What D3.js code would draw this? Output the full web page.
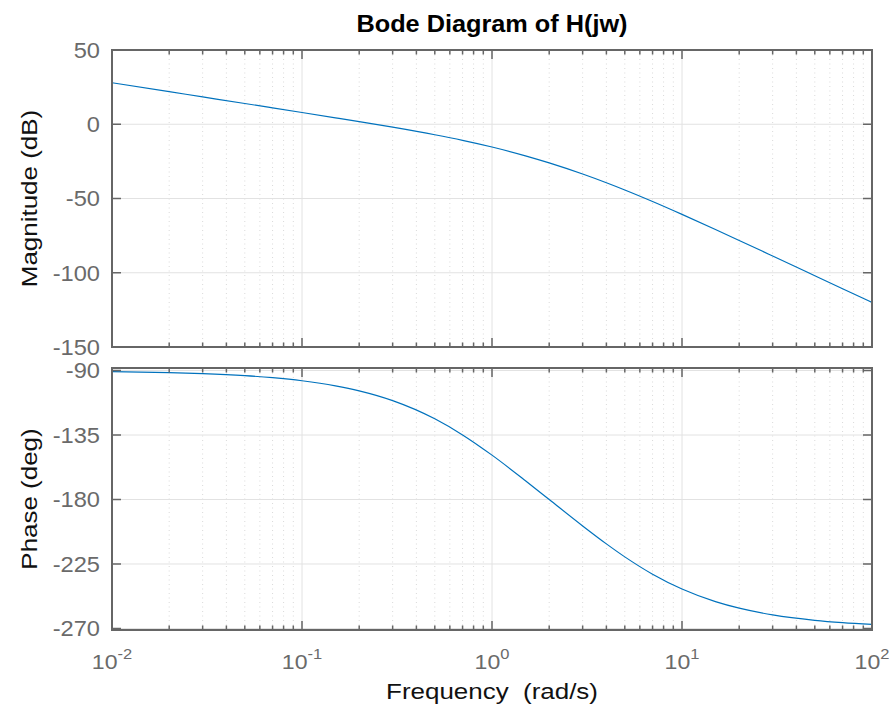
<!DOCTYPE html>
<html><head><meta charset="utf-8">
<script src="https://cdn.jsdelivr.net/npm/d3@7"></script>
<style>html,body{margin:0;padding:0;background:#fff;}svg{display:block;font-family:"Liberation Sans",Arial,Helvetica,sans-serif;}text{white-space:pre;}</style>
</head><body>
<script>
// ---- data ----
const freq = [0.01,0.02,0.03,0.05,0.07,0.1,0.15,0.2,0.3,0.5,0.7,1,1.5,2,3,4,5,7,10,15,20,30,50,70,100];
const magDb = [27.96,21.94,18.41,13.97,11.03,7.91,4.33,1.76,-1.98,-7.06,-10.81,-15.31,-21.25,-26.02,-33.52,-39.40,-44.26,-52.02,-60.69,-70.88,-78.24,-88.71,-101.97,-110.72,-120.01];
const phaseDeg = [-90.72,-91.43,-92.15,-93.58,-95.01,-97.14,-100.68,-104.17,-110.99,-123.69,-134.92,-149.04,-166.87,-180.0,-198.44,-210.96,-220.03,-232.13,-242.49,-251.26,-255.83,-260.50,-264.28,-265.91,-267.14];
const xDecades = [0.01,0.1,1,10,100];
const xExponents = ["-2","-1","0","1","2"];
const magTicks = [50,0,-50,-100,-150];
const phaseTicks = [-90,-135,-180,-225,-270];
const magLim = [-150,50];
const phaseLim = [-271.05,-88.25];
const title = "Bode Diagram of H(jw)";
const magLabel = "Magnitude (dB)";
const phaseLabel = "Phase (deg)";
const xLabel = "Frequency  (rad/s)";

// ---- layout ----
const W = 894, H = 708;
const L = 112, R = 872;
const magTop = 50, magBot = 347;
const phTop = 368, phBot = 630;
const axisColor = "#666666", tickTextColor = "#6a6a6a", lineColor = "#0072BD";
const SX = 1.1;

const svg = d3.select("body").append("svg").attr("width", W).attr("height", H);

const x = d3.scaleLog().domain([xDecades[0], xDecades[xDecades.length-1]]).range([L, R]);
const yMag = d3.scaleLinear().domain(magLim).range([magBot, magTop]);
const yPh = d3.scaleLinear().domain(phaseLim).range([phBot, phTop]);

const minorX = [];
for (let i = 0; i < xDecades.length - 1; i++) for (let k = 2; k <= 9; k++) minorX.push(xDecades[i] * k);

function stext(parent, px, py, str, o) {
  const g = parent.append("g").attr("transform", `translate(${px},${py})${o.rotate ? " rotate(-90)" : ""} scale(${o.sx || SX},1)`);
  return g.append("text").attr("x", 0).attr("y", 0)
    .attr("xml:space", "preserve")
    .attr("text-anchor", o.anchor || "middle")
    .attr("font-size", o.size).attr("font-weight", o.weight || "normal")
    .attr("fill", o.fill || "#000").text(str);
}

function panel(y, ticks, top, bot, data, label) {
  const g = svg.append("g");
  // minor x grid (dotted)
  g.selectAll(".mgx").data(minorX).enter().append("line")
    .attr("x1", d => x(d)).attr("x2", d => x(d)).attr("y1", top).attr("y2", bot)
    .attr("stroke", "#d9d9d9").attr("stroke-width", 1).attr("stroke-dasharray", "1,3.5");
  // major x grid
  g.selectAll(".Mgx").data(xDecades).enter().append("line")
    .attr("x1", d => x(d)).attr("x2", d => x(d)).attr("y1", top).attr("y2", bot)
    .attr("stroke", "#e2e2e2").attr("stroke-width", 1);
  // y grid
  g.selectAll(".gy").data(ticks).enter().append("line")
    .attr("x1", L).attr("x2", R).attr("y1", d => y(d)).attr("y2", d => y(d))
    .attr("stroke", "#e2e2e2").attr("stroke-width", 1);

  // curve
  const clipId = "clip" + top;
  svg.append("clipPath").attr("id", clipId).append("rect")
    .attr("x", L).attr("y", top).attr("width", R - L).attr("height", bot - top);
  const line = d3.line().x((d, i) => x(freq[i])).y(d => y(d)).curve(d3.curveMonotoneX);
  g.append("path").datum(data).attr("d", line).attr("fill", "none")
    .attr("stroke", lineColor).attr("stroke-width", 1.2).attr("clip-path", `url(#${clipId})`);

  // ticks: bottom & top, minor + major
  const tk = g.append("g").attr("stroke", axisColor).attr("stroke-width", 1.5);
  [[bot, -1], [top, 1]].forEach(([yy, dir]) => {
    tk.selectAll(null).data(minorX).enter().append("line")
      .attr("x1", d => x(d)).attr("x2", d => x(d)).attr("y1", yy).attr("y2", yy + dir * 4.5);
    tk.selectAll(null).data(xDecades).enter().append("line")
      .attr("x1", d => x(d)).attr("x2", d => x(d)).attr("y1", yy).attr("y2", yy + dir * 9);
  });
  // y ticks left & right
  [[L, 1], [R, -1]].forEach(([xx, dir]) => {
    tk.selectAll(null).data(ticks).enter().append("line")
      .attr("x1", xx).attr("x2", xx + dir * 9).attr("y1", d => y(d)).attr("y2", d => y(d));
  });
  // frame
  g.append("rect").attr("x", L).attr("y", top).attr("width", R - L).attr("height", bot - top)
    .attr("fill", "none").attr("stroke", axisColor).attr("stroke-width", 2);

  // y tick labels
  ticks.forEach(t => {
    stext(g, 100, y(t) + 7.8, String(t), {anchor: "end", size: 21.5, fill: tickTextColor});
  });
  // y label
  stext(g, 37, (top + bot) / 2, label, {rotate: true, size: 22, sx: 1.18, fill: "#111"});
}

panel(yMag, magTicks, magTop, magBot, magDb, magLabel);
panel(yPh, phaseTicks, phTop, phBot, phaseDeg, phaseLabel);

// x tick labels
xDecades.forEach((d, i) => {
  const t = stext(svg, x(d), 669, "10", {size: 21, fill: tickTextColor});
  t.append("tspan").attr("dy", -10).attr("font-size", 15).text(xExponents[i]);
});

// x label & title
stext(svg, 492, 699, xLabel, {size: 22, sx: 1.18, fill: "#111"});
stext(svg, 492, 32, title, {size: 23, weight: "bold", sx: 1.1, fill: "#000"});
</script>
</body></html>
